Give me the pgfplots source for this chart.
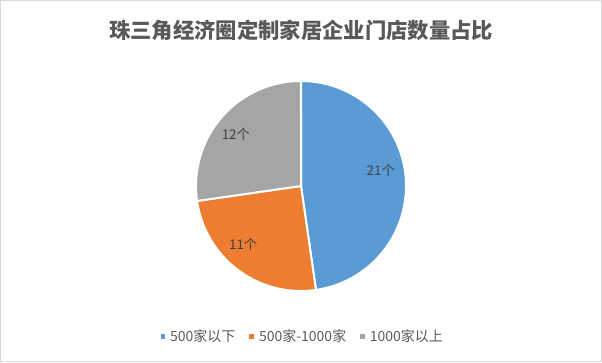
\documentclass[border=0pt]{standalone}
\usepackage{pgfplots}
\pgfplotsset{compat=1.18}
\usepackage{fontspec}
\setmainfont{Noto Sans CJK SC}
\definecolor{cblue}{HTML}{5B9BD5}
\definecolor{corange}{HTML}{ED7D31}
\definecolor{cgray}{HTML}{A5A5A5}
\definecolor{ctitle}{HTML}{595959}
\definecolor{clabel}{HTML}{404040}
\definecolor{cborder}{HTML}{D9D9D9}
% data
\def\va{21}\def\vb{11}\def\vc{12}
\pgfmathsetmacro{\tot}{\va+\vb+\vc}
\pgfmathsetmacro{\aA}{90}
\pgfmathsetmacro{\aB}{90-\va/\tot*360}
\pgfmathsetmacro{\aC}{\aB-\vb/\tot*360}
\pgfmathsetmacro{\aD}{\aC-\vc/\tot*360}
\begin{document}
\begin{tikzpicture}[x=0.75pt,y=0.75pt]
\draw[cborder, line width=0.75pt] (0.5,0.5) rectangle (601.5,361.5);
\node[text=ctitle, font=\fontsize{16}{19}\selectfont\bfseries] at (301,332) {珠三角经济圈定制家居企业门店数量占比};
\coordinate (pc) at (301,176);
\begin{axis}[at={(pc)}, anchor=origin, hide axis, scale only axis,
  width=157.5pt, height=157.5pt, xmin=-1, xmax=1, ymin=-1, ymax=1, clip=false,
  legend columns=3,
  legend style={at={(0.505,-0.215)}, anchor=center, draw=none, fill=none,
    font=\fontsize{10.5}{12}\selectfont, text=ctitle,
    /tikz/every even column/.append style={column sep=7pt}},
  legend image code/.code={\fill[#1] (0pt,-2.6pt) rectangle (5.2pt,2.6pt);},
  every node near coord/.append style={anchor=center, font=\fontsize{10}{12}\selectfont, text=clabel}]
\addplot[fill=cblue, draw=white, line width=1.5pt, domain=\aB:\aA, samples=120, variable=\t]
  ({cos(\t)},{sin(\t)}) -- (axis cs:0,0) -- cycle;
\addlegendentry{500家以下}
\addplot[fill=corange, draw=white, line width=1.5pt, domain=\aC:\aB, samples=80, variable=\t]
  ({cos(\t)},{sin(\t)}) -- (axis cs:0,0) -- cycle;
\addlegendentry{500家-1000家}
\addplot[fill=cgray, draw=white, line width=1.5pt, domain=\aD:\aC, samples=80, variable=\t]
  ({cos(\t)},{sin(\t)}) -- (axis cs:0,0) -- cycle;
\addlegendentry{1000家以上}
\addplot[forget plot, draw=none, mark=none, nodes near coords, point meta=explicit symbolic]
  coordinates {(0.76,0.15) [21个] (-0.55,-0.56) [11个] (-0.62,0.49) [12个]};
\end{axis}
\end{tikzpicture}
\end{document}
